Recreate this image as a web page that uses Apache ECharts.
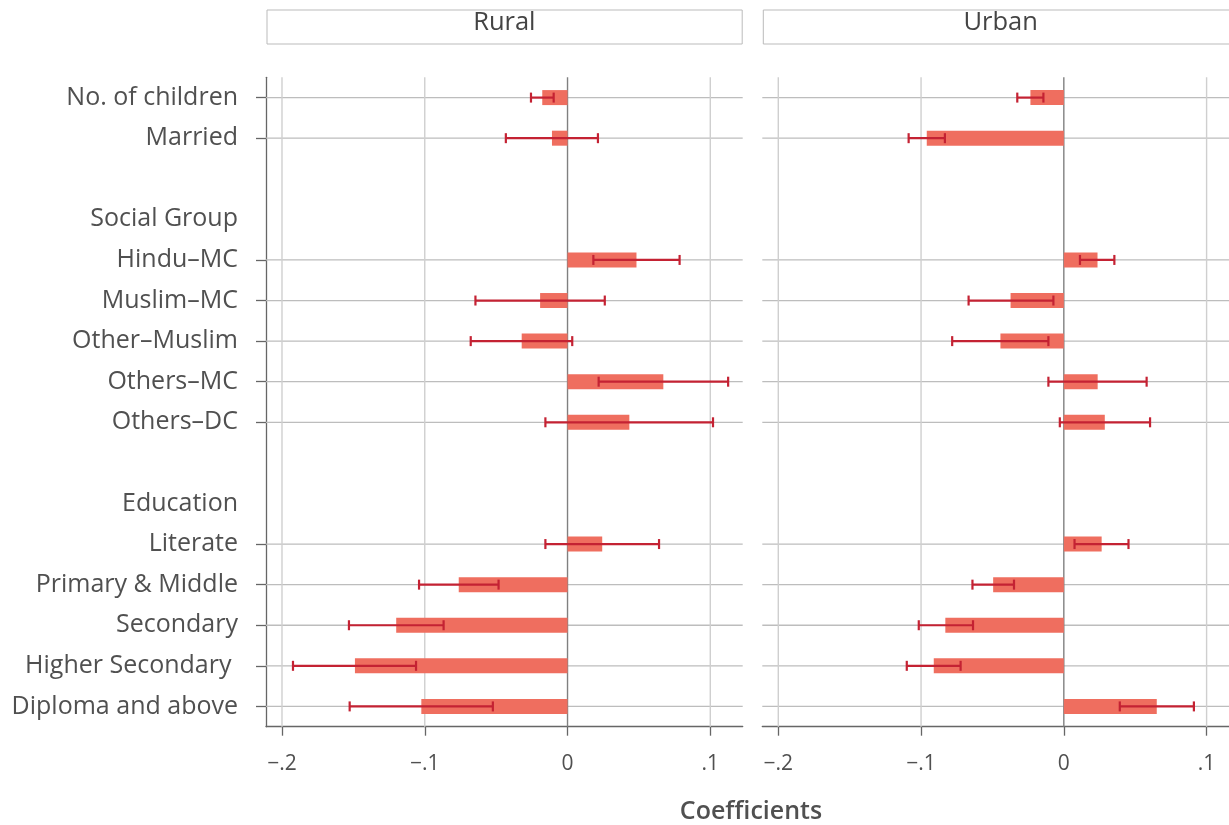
<!DOCTYPE html>
<html>
<head>
<meta charset="utf-8">
<script src="https://cdn.jsdelivr.net/npm/echarts@6/dist/echarts.min.js"></script>
<style>
html,body{margin:0;padding:0;background:#fff;overflow:hidden;}
#chart{width:1242px;height:825px;}
</style>
</head>
<body>
<div id="chart"></div>
<script>
// ---------- data ----------
const categories = ['No. of children', 'Married', ' ', 'Social Group', 'Hindu–MC', 'Muslim–MC', 'Other–Muslim', 'Others–MC', 'Others–DC', '  ', 'Education', 'Literate', 'Primary & Middle', 'Secondary', 'Higher Secondary ', 'Diploma and above'];
const panels = ['Rural', 'Urban'];

const ruralCoef = [-0.0177, -0.0109, null, null, 0.0483, -0.0192, -0.0321, 0.0671, 0.0433, null, null, 0.0243, -0.0762, -0.1200, -0.1489, -0.1024];
const ruralLow  = [-0.0256, -0.0432, null, null, 0.0181, -0.0645, -0.0678, 0.0218, -0.0155, null, null, -0.0155, -0.1040, -0.1531, -0.1923, -0.1526];
const ruralHigh = [-0.0097, 0.0213, null, null, 0.0785, 0.0261, 0.0033, 0.1125, 0.1019, null, null, 0.0641, -0.0483, -0.0868, -0.1061, -0.0523];

const urbanCoef = [-0.0234, -0.0960, null, null, 0.0236, -0.0373, -0.0444, 0.0237, 0.0287, null, null, 0.0265, -0.0495, -0.0830, -0.0911, 0.0651];
const urbanLow  = [-0.0326, -0.1087, null, null, 0.0113, -0.0667, -0.0782, -0.0108, -0.0028, null, null, 0.0075, -0.0640, -0.1016, -0.1100, 0.0392];
const urbanHigh = [-0.0143, -0.0833, null, null, 0.0354, -0.0073, -0.0108, 0.0580, 0.0604, null, null, 0.0453, -0.0349, -0.0636, -0.0723, 0.0911];

const xTicks = [-0.2, -0.1, 0, 0.1];
const xTickLabels = ['−.2', '−.1', '0', '.1'];
const xTitle = 'Coefficients';

// ---------- style ----------
const FONT = 'Open Sans';
const BAR = '#EF6E5F';
const ERR = '#C42233';
const TXT = '#505050';
const AXIS = '#666666';

const coefs = [ruralCoef, urbanCoef];
const lows = [ruralLow, urbanLow];
const highs = [ruralHigh, urbanHigh];

const gridLeft = [266, 762.3];
const gridTop = 77.3, gridW = 476.7, gridH = 649.4;
const X_MIN = -0.2112, X_MAX = 0.1227;

const grids = [], xAxes = [], yAxes = [], series = [];

panels.forEach((p, k) => {
  const coef = coefs[k];
  grids.push({left: gridLeft[k], top: gridTop, width: gridW, height: gridH});
  xAxes.push({
    type: 'value', gridIndex: k, min: X_MIN, max: X_MAX,
    minInterval: 0.1, maxInterval: 0.1,
    axisLine: {show: true, onZero: false, lineStyle: {color: AXIS, width: 1.3}},
    axisTick: {show: true, customValues: xTicks, length: 9, lineStyle: {color: AXIS, width: 1.3}},
    axisLabel: {customValues: xTicks, fontFamily: FONT, fontSize: 21, color: TXT, margin: 27,
      formatter: v => { const i = xTicks.findIndex(t => Math.abs(t - v) < 1e-9); return i >= 0 ? xTickLabels[i] : ''; }},
    splitLine: {show: false}
  });
  yAxes.push({
    type: 'category', gridIndex: k, inverse: true, data: categories,
    axisLine: {show: k === 0, onZero: false, lineStyle: {color: AXIS, width: 1.3}},
    axisTick: {show: k === 0, alignWithLabel: true, length: 10, lineStyle: {color: AXIS, width: 1.3},
      interval: (idx) => coef[idx] != null},
    axisLabel: {show: k === 0, interval: 0, fontFamily: FONT, fontSize: 25, color: TXT, margin: 28},
    splitLine: {show: false}
  });

  const rows = [];
  coef.forEach((v, i) => { if (v != null) rows.push(i); });

  // horizontal gridlines at data rows
  series.push({
    type: 'custom', xAxisIndex: k, yAxisIndex: k, z: 1, silent: true,
    data: rows.map(i => [0, i]),
    encode: {x: 0, y: 1},
    renderItem: (params, api) => {
      const cs = params.coordSys;
      const y = api.coord([0, api.value(1)])[1];
      return {type: 'line', shape: {x1: cs.x, y1: y, x2: cs.x + cs.width, y2: y},
        style: {stroke: '#BDBDBD', lineWidth: 1.3}};
    }
  });
  // vertical gridlines at x ticks
  series.push({
    type: 'custom', xAxisIndex: k, yAxisIndex: k, z: 1, silent: true,
    data: xTicks.map(v => [v, 0]),
    encode: {x: 0, y: 1},
    renderItem: (params, api) => {
      const cs = params.coordSys;
      const v = api.value(0);
      const x = api.coord([v, 0])[0];
      const zero = Math.abs(v) < 1e-9;
      return {type: 'line', shape: {x1: x, y1: cs.y, x2: x, y2: cs.y + cs.height},
        style: {stroke: zero ? '#808080' : '#CFCFCF', lineWidth: 1.4}};
    }
  });
  // bars
  series.push({
    type: 'bar', xAxisIndex: k, yAxisIndex: k, z: 2, barWidth: 15,
    itemStyle: {color: BAR}, silent: true,
    data: coef
  });
  // error bars
  series.push({
    type: 'custom', xAxisIndex: k, yAxisIndex: k, z: 3, silent: true,
    data: rows.map(i => [i, lows[k][i], highs[k][i]]),
    encode: {x: [1, 2], y: 0},
    renderItem: (params, api) => {
      const i = api.value(0);
      const p1 = api.coord([api.value(1), i]);
      const p2 = api.coord([api.value(2), i]);
      const h = 5;
      const st = {stroke: ERR, lineWidth: 2.2};
      return {type: 'group', children: [
        {type: 'line', shape: {x1: p1[0], y1: p1[1], x2: p2[0], y2: p2[1]}, style: st},
        {type: 'line', shape: {x1: p1[0], y1: p1[1] - h, x2: p1[0], y2: p1[1] + h}, style: st},
        {type: 'line', shape: {x1: p2[0], y1: p2[1] - h, x2: p2[0], y2: p2[1] + h}, style: st}
      ]};
    }
  });
});

const graphics = [];
panels.forEach((p, k) => {
  graphics.push({type: 'rect', left: gridLeft[k] + 0.5, top: 9.5,
    shape: {width: gridW - 1.5, height: 34}, style: {fill: '#fff', stroke: '#BBBBBB', lineWidth: 1}, silent: true});
  graphics.push({type: 'text', x: gridLeft[k] + gridW / 2, y: 23,
    style: {text: p, fontFamily: FONT, fontSize: 25.5, fill: '#444', textAlign: 'center', textVerticalAlign: 'middle'}});
});
graphics.push({type: 'text', x: 751, y: 812,
  style: {text: xTitle, fontFamily: FONT, fontSize: 25, fontWeight: 600, fill: TXT, textAlign: 'center', textVerticalAlign: 'middle'}});

const chart = echarts.init(document.getElementById('chart'), null, {renderer: 'canvas'});
chart.setOption({
  animation: false,
  backgroundColor: '#fff',
  grid: grids, xAxis: xAxes, yAxis: yAxes, series: series, graphic: graphics
});
</script>
</body>
</html>
